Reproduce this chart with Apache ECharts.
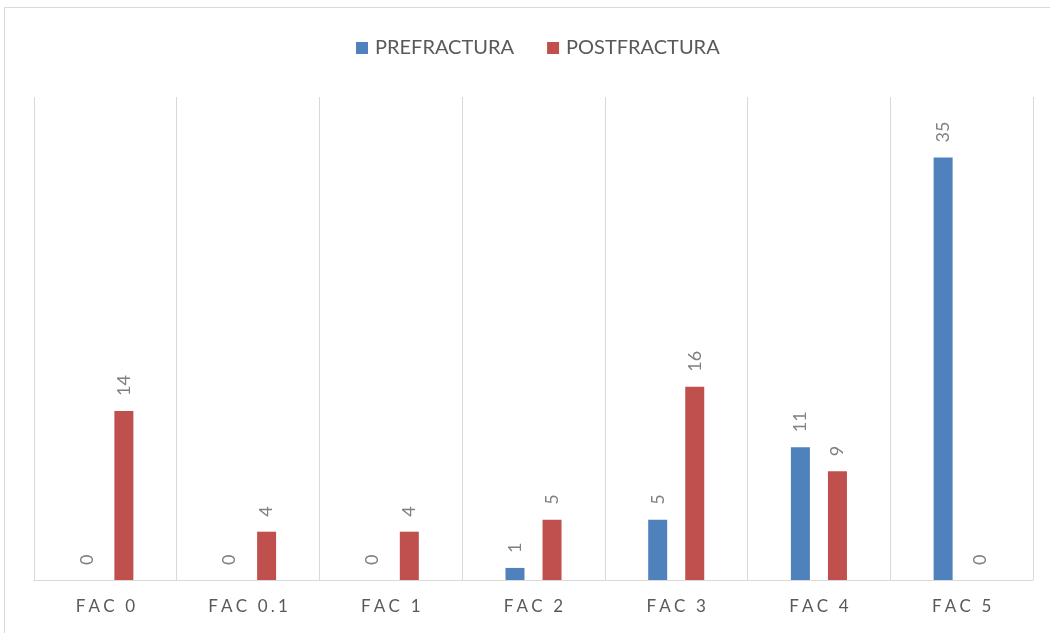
<!DOCTYPE html>
<html>
<head>
<meta charset="utf-8">
<script src="https://cdn.jsdelivr.net/npm/echarts@6/dist/echarts.min.js"></script>
<style>
  html, body { margin: 0; padding: 0; background: #ffffff; }
  #chart { width: 1050px; height: 633px; }
</style>
</head>
<body>
<div id="chart"></div>
<script>
// Categories and counts per FAC level
const categories = ['FAC 0', 'FAC 0.1', 'FAC 1', 'FAC 2', 'FAC 3', 'FAC 4', 'FAC 5'];
const seriesNames = ['PREFRACTURA', 'POSTFRACTURA'];
const prefractura = [0, 0, 0, 1, 5, 11, 35];
const postfractura = [14, 4, 4, 5, 16, 9, 0];
const colors = ['#4f81bd', '#c0504d'];

const FONT = 'Lato, "Open Sans", sans-serif';

const barLabel = {
  show: true,
  position: 'top',
  rotate: 90,
  align: 'left',
  verticalAlign: 'middle',
  distance: 15,
  color: '#808080',
  fontSize: 18,
  fontFamily: FONT
};

const chart = echarts.init(document.getElementById('chart'));
chart.setOption({
  animation: false,
  backgroundColor: '#ffffff',
  graphic: [{
    type: 'rect',
    shape: { x: 4.5, y: 7.5, width: 1200, height: 800 },
    style: { fill: 'none', stroke: '#d9d9d9', lineWidth: 1 },
    silent: true,
    z: -10
  }],
  legend: {
    top: 33,
    left: 351,
    itemWidth: 12,
    itemHeight: 12,
    itemGap: 33,
    icon: 'rect',
    textStyle: { color: '#595959', fontSize: 20, fontFamily: FONT, padding: [0, 0, 0, 2] },
    data: seriesNames
  },
  grid: { left: 34, right: 17, top: 97, bottom: 53, containLabel: false },
  xAxis: {
    type: 'category',
    data: categories,
    axisTick: { show: false },
    axisLine: { lineStyle: { color: '#d9d9d9', width: 1 } },
    splitLine: { show: true, lineStyle: { color: '#d9d9d9', width: 1 } },
    axisLabel: {
      color: '#595959',
      fontSize: 17,
      fontFamily: FONT,
      margin: 18,
      // spread the characters of each category name
      formatter: v => v.split('').join('\u2009\u200A')
    }
  },
  yAxis: {
    type: 'value',
    min: 0,
    max: 40,
    show: false,
    splitLine: { show: false }
  },
  series: [
    {
      name: seriesNames[0],
      type: 'bar',
      data: prefractura,
      barWidth: 19,
      barGap: '95%',
      itemStyle: { color: colors[0] },
      label: barLabel
    },
    {
      name: seriesNames[1],
      type: 'bar',
      data: postfractura,
      barWidth: 19,
      barGap: '95%',
      itemStyle: { color: colors[1] },
      label: barLabel
    }
  ]
});
</script>
</body>
</html>
